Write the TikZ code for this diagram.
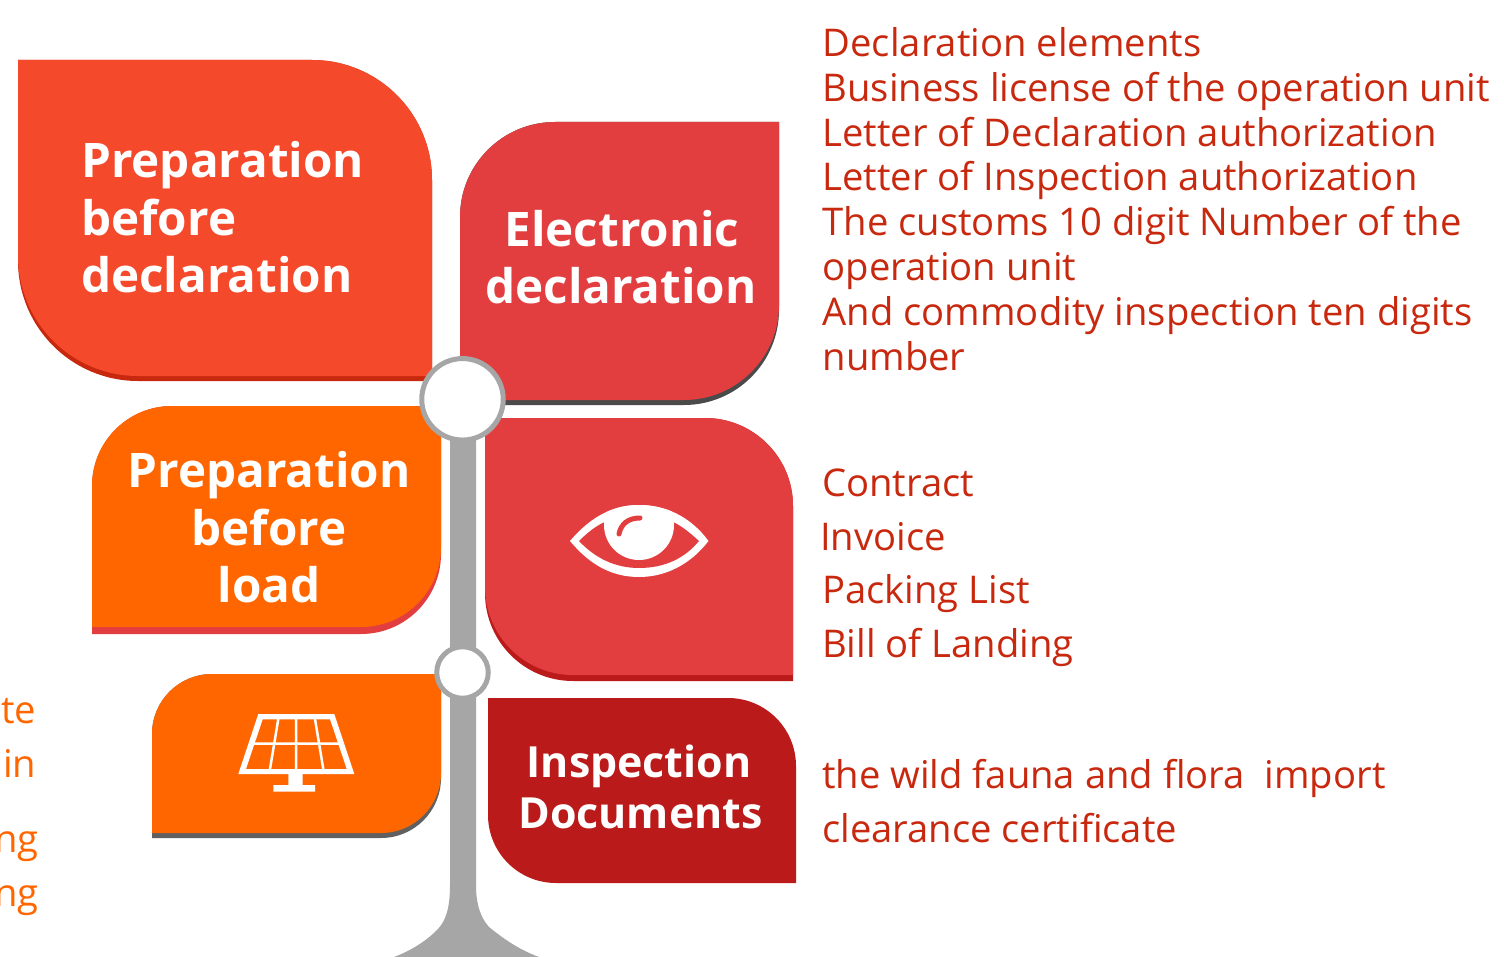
\documentclass[tikz,border=0pt]{standalone}
\usepackage{fontspec}
\setmainfont{Open Sans}
\definecolor{cA}{HTML}{F4492A}\definecolor{cAs}{HTML}{C8280E}
\definecolor{cB}{HTML}{E33E3F}\definecolor{cBs}{HTML}{4A4A4A}
\definecolor{cC}{HTML}{FF6600}\definecolor{cD}{HTML}{BB1A1A}
\definecolor{cEs}{HTML}{606060}\definecolor{cT}{HTML}{A6A6A6}
\definecolor{cR}{HTML}{C8280E}
\tikzset{
 x=1pt,y=-1pt,
 lab/.style={text=white,font=\bfseries\fontsize{#1}{#1}\selectfont,inner sep=0pt},
 listred/.style={text=cR,anchor=base west,inner sep=0pt,font=\fontsize{38.2}{38.2}\selectfont},
 listor/.style={text=cC,anchor=base east,inner sep=0pt,font=\fontsize{38.2}{38.2}\selectfont},
 knob/.style={circle,draw=cT,fill=white,line width=5pt,inner sep=0pt,minimum size=#1},
}
% left top right bottom radius colour : rounded TR & BL
\newcommand{\leafTR}[6]{\fill[#6] (#1,#2) [rounded corners=#5pt] -- (#3,#2) [sharp corners] -- (#3,#4) [rounded corners=#5pt] -- (#1,#4) [sharp corners] -- cycle;}
% rounded TL & BR
\newcommand{\leafTL}[6]{\fill[#6] (#3,#2) [rounded corners=#5pt] -- (#1,#2) [sharp corners] -- (#1,#4) [rounded corners=#5pt] -- (#3,#4) [sharp corners] -- cycle;}
\begin{document}
\begin{tikzpicture}
\useasboundingbox (0,0) rectangle (1504,957);
% trunk
\fill[cT] (450,399) -- (450,885) .. controls (450,910) and (445,922) .. (437,930) .. controls (425,942) and (410,951) .. (394,957) -- (539,957) .. controls (520,950) and (505,940) .. (489,927) .. controls (481,918) and (476,905) .. (476,885) -- (476,399) -- cycle;
% leaves
\leafTR{18}{60}{432}{381}{120}{cAs}\leafTR{18}{60}{432}{376}{120}{cA}
\leafTL{460}{122}{779}{405}{95}{cBs}\leafTL{460}{122}{779}{400}{95}{cB}
\leafTR{485}{418}{793}{681}{88}{cD}\leafTR{485}{418}{793}{675}{88}{cB}
\leafTL{92}{406}{441}{634}{80}{cB}\leafTL{92}{406}{441}{627}{80}{cC}
\leafTL{152}{674}{441}{838}{60}{cEs}\leafTL{152}{674}{441}{833}{60}{cC}
\leafTR{488}{698}{796}{883}{68}{cD}
% knobs
\node[knob=81.5pt] (knobtop) at (462.5,399.3) {};
\node[knob=51.5pt] (knoblow) at (462.5,672.5) {};
% eye
\begin{scope}
\path[clip] (570,541) .. controls (592,515) and (615,505) .. (639,505) .. controls (665,505) and (690,516) .. (708.5,541) .. controls (690,565) and (665,577) .. (639,577) .. controls (612,577) and (590,565) .. (570,541) -- cycle;
\fill[white] (560,495) rectangle (720,585);
\fill[cB] (579,541) .. controls (590,530) and (600,523) .. (612,519) -- (666,519) .. controls (678,523) and (688,531) .. (699,541) .. controls (685,558) and (665,568) .. (639,568) .. controls (615,568) and (595,558) .. (579,541) -- cycle;
\fill[white] (639,525) circle[radius=35pt];
\end{scope}
\draw[cB,line width=5pt,line cap=round] (619,534) .. controls (621,524) and (628,518) .. (640,518);
% solar panel
\fill[white,even odd rule] (258.3,714) -- (334.3,714) -- (354.3,774) -- (238.3,774) -- cycle (262.7,719.3) -- (330,719.3) -- (346.7,769) -- (246,769) -- cycle;
\draw[white,line width=2.5pt] (296,719) -- (296,769) (278.3,719) -- (270,769) (315,719) -- (323.3,769) (254,743.5) -- (339,743.5);
\fill[white] (288.3,774) rectangle (302.7,785) (273.3,785) rectangle (315,791.7);
% labels
\node[lab=47.6,anchor=base west] (t1a) at (81,178) {Preparation};
\node[lab=47.6,anchor=base west] (t1b) at (81,235.5) {before};
\node[lab=47.6,anchor=base west] (t1c) at (81,293) {declaration};
\node[lab=47.6,anchor=base] (t2a) at (622,247) {Electronic};
\node[lab=47.6,anchor=base] (t2b) at (621,304) {declaration};
\node[lab=47.6,anchor=base] (t3a) at (269,487.5) {Preparation};
\node[lab=47.6,anchor=base] (t3b) at (269,545.5) {before};
\node[lab=47.6,anchor=base] (t3c) at (269,602.5) {load};
\node[lab=42.9,anchor=base] (t4a) at (639,777) {Inspection};
\node[lab=42.9,anchor=base] (t4b) at (640.5,828) {Documents};
% lists
\node[listred] (r1) at (822.5,56.5) {Declaration elements};
\node[listred] (r2) at (822.5,101.5) {Business license of the operation unit};
\node[listred] (r3) at (822.5,146.5) {Letter of Declaration authorization};
\node[listred] (r4) at (822.5,190.5) {Letter of Inspection authorization};
\node[listred] (r5) at (822.5,235.5) {The customs 10 digit Number of the};
\node[listred] (r6) at (822.5,280.5) {operation unit};
\node[listred] (r7) at (822.5,325.5) {And commodity inspection ten digits};
\node[listred] (r8) at (822.5,370.5) {number};
\node[listred] (c1) at (822,496) {Contract};
\node[listred] (c2) at (820,550) {Invoice};
\node[listred] (c3) at (822,603) {Packing List};
\node[listred] (c4) at (822,657) {Bill of Landing};
\node[listred] (w1) at (822,788) {the wild fauna and flora\ \ import};
\node[listred] (w2) at (822,842) {clearance certificate};
\node[listor] (o1) at (36.5,723) {te};
\node[listor] (o2) at (36.5,777) {in};
\node[listor] (o3) at (39,852) {ng};
\node[listor] (o4) at (39,906) {ng};
\end{tikzpicture}
\end{document}
